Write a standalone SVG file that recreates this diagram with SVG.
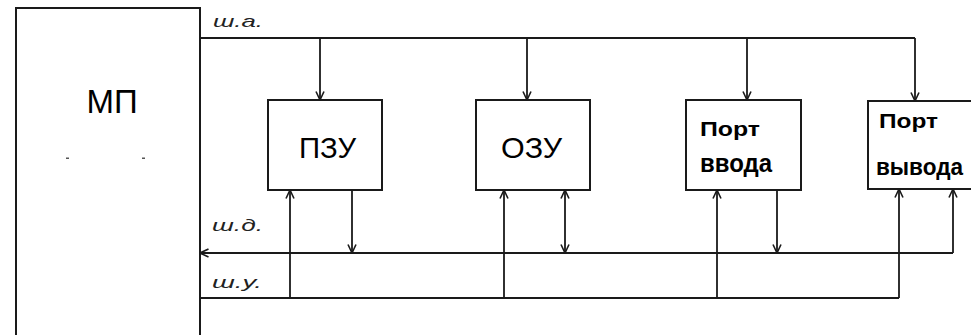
<svg xmlns="http://www.w3.org/2000/svg" width="971" height="335" viewBox="0 0 971 335">
<style>
.box{fill:#fff;stroke:#1a1a1a;stroke-width:2}
.ln{fill:none;stroke:#1a1a1a;stroke-width:1.8}
.big{font-family:"Liberation Sans",Arial,sans-serif;fill:#000}
.bold{font-family:"Liberation Sans",Arial,sans-serif;font-weight:bold;fill:#000}
.lbl{font-family:"Liberation Sans",Arial,sans-serif;font-style:italic;font-size:17px;fill:#222}
</style>
<defs>
<marker id="ah" viewBox="0 0 10 10" refX="9.5" refY="5" markerWidth="10" markerHeight="10" markerUnits="userSpaceOnUse" orient="auto-start-reverse">
<path d="M1,1 L9.5,5 L1,9" fill="none" stroke="#1a1a1a" stroke-width="1.6"/>
</marker>
</defs>
<rect width="971" height="335" fill="#fff"/>
<g id="mp">
<rect class="box" x="16" y="8" width="184" height="340"/>
<text class="big" x="112" y="113" font-size="33" text-anchor="middle">МП</text>
<rect x="66" y="157.5" width="3" height="1.5" fill="#555"/>
<rect x="142" y="157.5" width="3" height="1.5" fill="#555"/>
</g>
<g id="pzu">
<rect class="box" x="268" y="100" width="114" height="90"/>
<text class="big" x="299" y="158" font-size="29" textLength="57" lengthAdjust="spacingAndGlyphs">ПЗУ</text>
</g>
<g id="ozu">
<rect class="box" x="476" y="100" width="114" height="90"/>
<text class="big" x="501" y="158" font-size="29" textLength="61" lengthAdjust="spacingAndGlyphs">ОЗУ</text>
</g>
<g id="port-in">
<rect class="box" x="686" y="100" width="115" height="90"/>
<text class="bold" x="700" y="136" font-size="21" textLength="60" lengthAdjust="spacingAndGlyphs">Порт</text>
<text class="bold" x="700" y="172" font-size="25" textLength="72" lengthAdjust="spacingAndGlyphs">ввода</text>
</g>
<g id="port-out">
<rect class="box" x="868" y="101" width="120" height="88"/>
<text class="bold" x="879" y="128" font-size="21" textLength="59" lengthAdjust="spacingAndGlyphs">Порт</text>
<text class="bold" x="876" y="175" font-size="24" textLength="87" lengthAdjust="spacingAndGlyphs">вывода</text>
</g>
<g id="connectors">
<path class="ln" d="M200,38 H915"/>
<path class="ln" d="M320,38 V100" marker-end="url(#ah)"/>
<path class="ln" d="M527,38 V100" marker-end="url(#ah)"/>
<path class="ln" d="M747,38 V100" marker-end="url(#ah)"/>
<path class="ln" d="M915,38 V101" marker-end="url(#ah)"/>
<path class="ln" d="M953,253 H200" marker-end="url(#ah)"/>
<path class="ln" d="M200,298 H899"/>
<path class="ln" d="M290,298 V190" marker-end="url(#ah)"/>
<path class="ln" d="M504,298 V190" marker-end="url(#ah)"/>
<path class="ln" d="M717,298 V190" marker-end="url(#ah)"/>
<path class="ln" d="M899,298 V189" marker-end="url(#ah)"/>
<path class="ln" d="M352,190 V253" marker-end="url(#ah)"/>
<path class="ln" d="M565,190 V253" marker-start="url(#ah)" marker-end="url(#ah)"/>
<path class="ln" d="M777,190 V253" marker-end="url(#ah)"/>
<path class="ln" d="M953,253 V189" marker-end="url(#ah)"/>
</g>
<g id="labels">
<text class="lbl" x="213" y="27" textLength="50" lengthAdjust="spacingAndGlyphs">ш.а.</text>
<text class="lbl" x="212" y="231" textLength="51" lengthAdjust="spacingAndGlyphs">ш.д.</text>
<text class="lbl" x="212" y="288" textLength="50" lengthAdjust="spacingAndGlyphs">ш.у.</text>
</g>
</svg>
